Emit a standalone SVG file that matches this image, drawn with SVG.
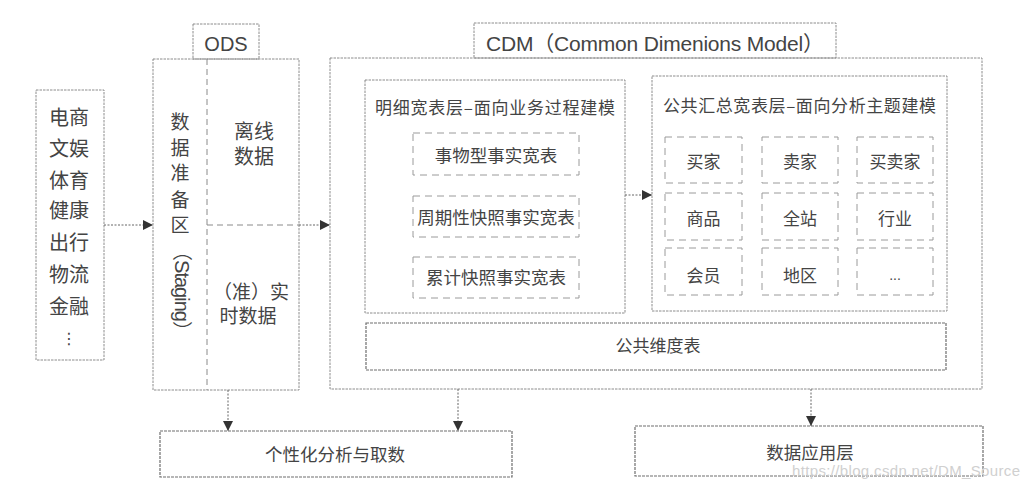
<svg xmlns="http://www.w3.org/2000/svg" width="1030" height="488" viewBox="0 0 1030 488">
<defs>
<style>
.bg{fill:#ffffff}
.box{fill:none;stroke:#8c8c8c;stroke-width:1;stroke-dasharray:2.5 1}
.strong{fill:none;stroke:#6e6e6e;stroke-width:1.2;stroke-dasharray:3 1}
.inner{fill:none;stroke:#9a9a9a;stroke-width:1;stroke-dasharray:7 5}
.div{fill:none;stroke:#8a8a8a;stroke-width:1;stroke-dasharray:6 4}
.conn{fill:none;stroke:#666;stroke-width:1;stroke-dasharray:2 1.5}
.t{font-family:"Noto Sans CJK SC","Liberation Sans",sans-serif;fill:#444;text-anchor:middle}
.lat{font-family:"Liberation Sans","Noto Sans CJK SC",sans-serif;fill:#444;text-anchor:middle}
.s20{font-size:20px}
.s19{font-size:19px}
.s17{font-size:17px}
.wm{font-family:"Liberation Sans",sans-serif;font-size:15px;fill:#d0d0d0}
</style>
<marker id="arr" viewBox="0 0 10 10" refX="10" refY="5" markerWidth="10" markerHeight="10" markerUnits="userSpaceOnUse" orient="auto">
<path d="M0,0 L10,5 L0,10 z" fill="#333"/>
</marker>
</defs>
<rect class="bg" x="0" y="0" width="1030" height="488"/>

<g id="sources">
<rect class="box" x="36" y="90" width="68" height="270"/>
<text class="t s20" x="69" y="125">电商</text>
<text class="t s20" x="69" y="156">文娱</text>
<text class="t s20" x="69" y="188">体育</text>
<text class="t s20" x="69" y="218">健康</text>
<text class="t s20" x="69" y="250">出行</text>
<text class="t s20" x="69" y="282">物流</text>
<text class="t s20" x="69" y="314">金融</text>
<text class="t" style="font-family:'DejaVu Sans',sans-serif;font-size:16px" x="69" y="344">⋮</text>
</g>

<g id="ods">
<rect class="box" x="193" y="24" width="66" height="35"/>
<text class="lat s20" x="226" y="51">ODS</text>
<rect class="box" x="153" y="59" width="146" height="331"/>
<line class="div" x1="207" y1="59" x2="207" y2="390"/>
<line class="div" x1="207" y1="225" x2="299" y2="225"/>
<text class="t" style="font-size:19px"><tspan x="180" y="129">数</tspan><tspan x="180" y="155">据</tspan><tspan x="180" y="180">准</tspan><tspan x="180" y="206.5">备</tspan><tspan x="180" y="231.5">区</tspan></text>
<text class="lat s20" x="0" y="0" dominant-baseline="central" textLength="100" transform="translate(182,291) rotate(90)">（Staging）</text>
<text class="t s20"><tspan x="254" y="138.5">离线</tspan><tspan x="254" y="164">数据</tspan></text>
<text class="t s19"><tspan x="251" y="299">（准）实</tspan><tspan x="248" y="323">时数据</tspan></text>
</g>

<g id="cdm">
<rect class="box" x="474" y="23" width="362" height="35"/>
<text class="lat" style="font-size:21px" x="655" y="51" textLength="338">CDM（Common Dimenions Model）</text>
<rect class="box" x="330" y="58" width="652" height="331"/>
</g>

<g id="detail">
<rect class="box" x="365" y="80" width="260" height="233"/>
<text class="t s17" x="495" y="114" textLength="240">明细宽表层–面向业务过程建模</text>
<rect class="inner" x="413" y="133" width="166" height="42"/>
<text class="t" style="font-size:17.5px" x="496" y="162">事物型事实宽表</text>
<rect class="inner" x="413" y="196" width="166" height="41"/>
<text class="t" style="font-size:17.5px" x="496" y="224">周期性快照事实宽表</text>
<rect class="inner" x="413" y="257" width="166" height="41"/>
<text class="t" style="font-size:17.5px" x="496" y="284">累计快照事实宽表</text>
</g>

<g id="summary">
<rect class="box" x="652" y="76" width="295" height="235"/>
<text class="t s17" x="799.5" y="111.5" textLength="273">公共汇总宽表层–面向分析主题建模</text>
<rect class="inner" x="665" y="137" width="77" height="46"/>
<text class="t s17" x="703.5" y="168">买家</text>
<rect class="inner" x="762" y="137" width="76" height="46"/>
<text class="t s17" x="800" y="168">卖家</text>
<rect class="inner" x="857" y="137" width="76" height="46"/>
<text class="t s17" x="895" y="168">买卖家</text>
<rect class="inner" x="665" y="193" width="77" height="47"/>
<text class="t s17" x="703.5" y="225">商品</text>
<rect class="inner" x="762" y="193" width="76" height="47"/>
<text class="t s17" x="800" y="225">全站</text>
<rect class="inner" x="857" y="193" width="76" height="47"/>
<text class="t s17" x="895" y="225">行业</text>
<rect class="inner" x="665" y="248" width="77" height="47"/>
<text class="t s17" x="703.5" y="282">会员</text>
<rect class="inner" x="762" y="248" width="76" height="47"/>
<text class="t s17" x="800" y="282">地区</text>
<rect class="inner" x="857" y="248" width="76" height="47"/>
<text class="lat" style="font-size:14px" x="895" y="280">...</text>
</g>

<g id="dimension">
<rect class="strong" x="366" y="323" width="580" height="47"/>
<text class="t s17" x="658" y="352">公共维度表</text>
</g>

<g id="adhoc">
<rect class="strong" x="160" y="431" width="352" height="46"/>
<text class="t" style="font-size:17.5px" x="335" y="461">个性化分析与取数</text>
</g>

<g id="app">
<rect class="strong" x="635" y="426" width="348" height="50"/>
<text class="t" style="font-size:17.5px" x="810" y="459">数据应用层</text>
</g>

<g id="connectors">
<line class="conn" x1="104" y1="225" x2="153" y2="225" marker-end="url(#arr)"/>
<line class="conn" x1="299" y1="225" x2="330" y2="225" marker-end="url(#arr)"/>
<line class="conn" x1="625" y1="195" x2="652" y2="195" marker-end="url(#arr)"/>
<line class="conn" x1="228" y1="390" x2="228" y2="431" marker-end="url(#arr)"/>
<line class="conn" x1="458" y1="389" x2="458" y2="431" marker-end="url(#arr)"/>
<line class="conn" x1="811" y1="389" x2="811" y2="426" marker-end="url(#arr)"/>
</g>

<text class="wm" x="792" y="476" textLength="228">https://blog.csdn.net/DM_Source</text>
</svg>
